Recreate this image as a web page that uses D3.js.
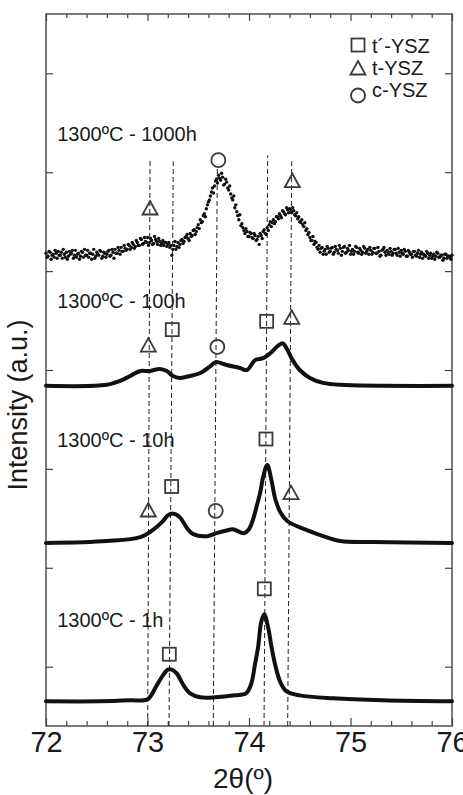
<!DOCTYPE html>
<html>
<head>
<meta charset="utf-8">
<script src="https://cdn.jsdelivr.net/npm/d3@7"></script>
<style>
  body { margin: 0; background: #fff; }
  svg { display: block; }
  text { font-family: "Liberation Sans", Arial, sans-serif; fill: #1a1a1a; }
</style>
</head>
<body>
<svg id="chart" width="463" height="795"></svg>
<script>
// x axis
const xTicks = [72, 73, 74, 75, 76];
const yTicks = [1, 2, 3, 4, 5, 6, 7];

const sampleLabels = ["1300ºC - 1000h", "1300ºC - 100h", "1300ºC - 10h", "1300ºC - 1h"];
const labelY = [6.32, 4.63, 3.22, 1.40];

// 1300C - 1h
const x1h = [72.00, 72.53, 72.83, 73.00, 73.09, 73.15, 73.20, 73.24, 73.29, 73.35, 73.42, 73.52, 73.67, 73.86, 73.97,
             74.02, 74.06, 74.09, 74.12, 74.15, 74.19, 74.22, 74.26, 74.31, 74.37, 74.50, 74.83, 75.32, 76.00];
const y1h = [0.65, 0.65, 0.66, 0.67, 0.81, 0.91, 0.97, 0.97, 0.93, 0.82, 0.73, 0.69, 0.69, 0.71, 0.73,
             0.82, 1.03, 1.20, 1.45, 1.53, 1.39, 1.21, 1.01, 0.84, 0.75, 0.71, 0.68, 0.66, 0.65];

// 1300C - 10h
const x10h = [72.00, 72.60, 72.93, 73.05, 73.15, 73.20, 73.25, 73.32, 73.39, 73.45, 73.59, 73.68, 73.79, 73.84, 73.95,
              74.00, 74.04, 74.08, 74.11, 74.14, 74.18, 74.22, 74.26, 74.31, 74.38, 74.57, 74.73, 74.90, 75.22, 76.00];
const y10h = [2.25, 2.27, 2.31, 2.38, 2.47, 2.53, 2.55, 2.51, 2.40, 2.34, 2.32, 2.35, 2.38, 2.39, 2.35,
              2.39, 2.49, 2.64, 2.76, 2.92, 3.04, 2.89, 2.69, 2.56, 2.47, 2.38, 2.32, 2.27, 2.26, 2.25];

// 1300C - 100h
const x100h = [72.00, 72.60, 72.73, 72.83, 72.93, 73.02, 73.12, 73.19, 73.25, 73.32, 73.42, 73.52, 73.62, 73.67, 73.78,
               73.91, 73.98, 74.06, 74.14, 74.21, 74.28, 74.33, 74.37, 74.43, 74.50, 74.60, 74.73, 74.90, 76.00];
const y100h = [3.84, 3.85, 3.89, 3.94, 3.99, 3.99, 4.01, 3.99, 3.94, 3.92, 3.94, 3.97, 4.04, 4.08, 4.05,
               4.02, 4.00, 4.10, 4.12, 4.17, 4.24, 4.27, 4.22, 4.10, 4.00, 3.92, 3.87, 3.85, 3.84];

// 1300C - 1000h, step scan every 0.01 from 72 to 76
// even steps (72.00, 72.02 ... 76.00)
const y1000hEven = [
  5.18, 5.15, 5.19, 5.16, 5.14, 5.18, 5.20, 5.16, 5.13, 5.17,
  5.19, 5.15, 5.17, 5.21, 5.16, 5.14, 5.18, 5.15, 5.19, 5.22,
  5.16, 5.14, 5.18, 5.17, 5.13, 5.19, 5.16, 5.20, 5.15, 5.18,
  5.17, 5.21, 5.16, 5.19, 5.22, 5.18, 5.21, 5.24, 5.20, 5.23,
  5.22, 5.26, 5.24, 5.27, 5.25, 5.29, 5.26, 5.32, 5.28, 5.30,
  5.34, 5.29, 5.31, 5.28, 5.32, 5.27, 5.30, 5.28, 5.26, 5.29,
  5.27, 5.24, 5.16, 5.26, 5.22, 5.29, 5.27, 5.32, 5.30, 5.35,
  5.33, 5.38, 5.36, 5.42, 5.40, 5.47, 5.52, 5.50, 5.58, 5.63,
  5.70, 5.76, 5.84, 5.86, 5.93, 5.97, 5.92, 5.95, 5.88, 5.90,
  5.82, 5.78, 5.72, 5.64, 5.60, 5.52, 5.46, 5.44, 5.38, 5.40,
  5.35, 5.38, 5.33, 5.36, 5.32, 5.27, 5.36, 5.40, 5.38, 5.44,
  5.47, 5.45, 5.52, 5.50, 5.55, 5.58, 5.54, 5.60, 5.57, 5.62,
  5.63, 5.59, 5.61, 5.56, 5.53, 5.50, 5.52, 5.45, 5.41, 5.37,
  5.34, 5.31, 5.27, 5.29, 5.22, 5.19, 5.24, 5.20, 5.17, 5.23,
  5.20, 5.24, 5.19, 5.22, 5.18, 5.23, 5.20, 5.25, 5.19, 5.21,
  5.17, 5.22, 5.20, 5.24, 5.18, 5.21, 5.19, 5.23, 5.20, 5.17,
  5.21, 5.19, 5.23, 5.18, 5.20, 5.16, 5.22, 5.19, 5.21, 5.17,
  5.20, 5.18, 5.22, 5.16, 5.19, 5.21, 5.17, 5.20, 5.15, 5.19,
  5.17, 5.20, 5.16, 5.18, 5.14, 5.19, 5.17, 5.15, 5.18, 5.16,
  5.13, 5.17, 5.15, 5.18, 5.14, 5.16, 5.13, 5.17, 5.15, 5.14, 5.16
];
// odd steps (72.01, 72.03 ... 75.99)
const y1000hOdd = [
  5.14, 5.20, 5.12, 5.17, 5.21, 5.13, 5.16, 5.19, 5.22, 5.14,
  5.12, 5.20, 5.18, 5.13, 5.21, 5.17, 5.12, 5.20, 5.14, 5.16,
  5.21, 5.18, 5.12, 5.22, 5.15, 5.17, 5.21, 5.13, 5.19, 5.14,
  5.20, 5.15, 5.22, 5.13, 5.18, 5.24, 5.17, 5.20, 5.26, 5.21,
  5.27, 5.22, 5.29, 5.23, 5.31, 5.26, 5.33, 5.27, 5.34, 5.29,
  5.26, 5.33, 5.27, 5.35, 5.30, 5.33, 5.26, 5.31, 5.29, 5.25,
  5.29, 5.26, 5.22, 5.30, 5.25, 5.24, 5.31, 5.28, 5.34, 5.37,
  5.31, 5.35, 5.41, 5.37, 5.44, 5.43, 5.49, 5.56, 5.55, 5.67,
  5.72, 5.80, 5.79, 5.91, 5.89, 5.94, 5.99, 5.87, 5.93, 5.84,
  5.86, 5.74, 5.76, 5.67, 5.56, 5.57, 5.48, 5.41, 5.43, 5.35,
  5.39, 5.34, 5.38, 5.31, 5.35, 5.38, 5.33, 5.42, 5.37, 5.41,
  5.50, 5.49, 5.48, 5.55, 5.53, 5.56, 5.61, 5.58, 5.64, 5.59,
  5.60, 5.64, 5.57, 5.59, 5.55, 5.49, 5.47, 5.49, 5.43, 5.39,
  5.31, 5.35, 5.30, 5.24, 5.26, 5.23, 5.17, 5.22, 5.25, 5.19,
  5.23, 5.17, 5.25, 5.21, 5.26, 5.16, 5.24, 5.18, 5.23, 5.26,
  5.20, 5.17, 5.25, 5.19, 5.23, 5.17, 5.25, 5.18, 5.22, 5.24,
  5.17, 5.23, 5.18, 5.24, 5.15, 5.21, 5.24, 5.16, 5.19, 5.23,
  5.16, 5.22, 5.18, 5.23, 5.15, 5.18, 5.22, 5.15, 5.21, 5.17,
  5.14, 5.20, 5.15, 5.21, 5.17, 5.13, 5.16, 5.20, 5.13, 5.18,
  5.15, 5.12, 5.19, 5.14, 5.16, 5.11, 5.17, 5.13, 5.15, 5.12
];
const scanStart = 72, scanStep = 0.02;

// reflection markers: tp = t'-YSZ, t = t-YSZ, c = c-YSZ
const markerPhase = ["t", "c", "t",
                     "t", "tp", "c", "tp", "t",
                     "t", "tp", "c", "tp", "t",
                     "tp", "tp"];
const markerX = [73.025, 73.698, 74.427,
                 73.008, 73.244, 73.688, 74.174, 74.421,
                 73.008, 73.238, 73.672, 74.167, 74.414,
                 73.215, 74.151];
const markerY = [5.633, 6.122, 5.909,
                 4.246, 4.408, 4.233, 4.492, 4.527,
                 2.579, 2.822, 2.576, 3.302, 2.755,
                 1.126, 1.787];

// dashed reference lines (slightly tilted in the source figure)
const refBottomX = [73.002, 73.212, 73.648, 74.148, 74.381];
const refTopX = [73.025, 73.254, 73.688, 74.184, 74.421];
const refTopY = [6.14, 6.11, 6.05, 6.17, 6.11];

const legendPhase = ["tp", "t", "c"];
const legendText = ["t´-YSZ", "t-YSZ", "c-YSZ"];

const svg = d3.select("#chart");
const pLeft = 46, pRight = 452, pTop = 14, pBottom = 726;

const x = d3.scaleLinear().domain([72, 76]).range([pLeft, pRight]);
const y = d3.scaleLinear().domain([0.4, 7.6]).range([pBottom, pTop]);

// axes, ticks pointing inward
const minor = d3.range(72, 76.001, 0.2).map(v => +v.toFixed(1)).filter(v => !xTicks.includes(v));

svg.append("g").attr("transform", `translate(0,${pBottom})`)
  .call(d3.axisBottom(x).tickValues(xTicks).tickSize(-8).tickPadding(5).tickFormat(d3.format("d")))
  .call(g => g.selectAll("text").style("font-size", "29px").attr("fill", "#1a1a1a"));
svg.append("g").attr("transform", `translate(0,${pBottom})`)
  .call(d3.axisBottom(x).tickValues(minor).tickSize(-5).tickFormat(""));
svg.append("g").attr("transform", `translate(0,${pTop})`)
  .call(d3.axisTop(x).tickValues(xTicks).tickSize(-7).tickFormat(""));
svg.append("g").attr("transform", `translate(0,${pTop})`)
  .call(d3.axisTop(x).tickValues(minor).tickSize(-4).tickFormat(""));
svg.append("g").attr("transform", `translate(${pLeft},0)`)
  .call(d3.axisLeft(y).tickValues(yTicks).tickSize(-7).tickFormat(""));
svg.append("g").attr("transform", `translate(${pRight},0)`)
  .call(d3.axisRight(y).tickValues(yTicks).tickSize(-7).tickFormat(""));

svg.selectAll(".domain").remove();
svg.selectAll(".tick line").attr("stroke", "#444").attr("stroke-width", 1.2);

svg.append("rect")
  .attr("x", pLeft).attr("y", pTop)
  .attr("width", pRight - pLeft).attr("height", pBottom - pTop)
  .attr("fill", "none").attr("stroke", "#444").attr("stroke-width", 1.4);

// axis titles
svg.append("text")
  .attr("x", 243).attr("y", 788)
  .attr("text-anchor", "middle")
  .style("font-size", "28px")
  .text("2θ(º)");

svg.append("text")
  .attr("transform", "translate(27,405) rotate(-90)")
  .attr("text-anchor", "middle")
  .style("font-size", "27px")
  .text("Intensity (a.u.)");

// dashed lines
svg.append("g").selectAll("line")
  .data(refBottomX)
  .join("line")
  .attr("x1", d => x(d)).attr("y1", pBottom)
  .attr("x2", (d, i) => x(refTopX[i])).attr("y2", (d, i) => y(refTopY[i]))
  .attr("stroke", "#222").attr("stroke-width", 1)
  .attr("stroke-dasharray", "5,3");

// continuous patterns
const line = d3.line().curve(d3.curveCatmullRom.alpha(0.5));
[[x1h, y1h], [x10h, y10h], [x100h, y100h]].forEach(s => {
  const pts = s[0].map((v, i) => [x(v), y(s[1][i])]);
  svg.append("path")
    .attr("d", line(pts))
    .attr("fill", "none")
    .attr("stroke", "#111")
    .attr("stroke-width", 4)
    .attr("stroke-linejoin", "round")
    .attr("stroke-linecap", "round");
});

// 1000h as scattered points
const pts1000 = y1000hEven.map((v, i) => [scanStart + i * scanStep, v])
  .concat(y1000hOdd.map((v, i) => [scanStart + 0.01 + i * scanStep, v]));
svg.append("g").selectAll("circle")
  .data(pts1000)
  .join("circle")
  .attr("cx", d => x(d[0]))
  .attr("cy", d => y(d[1]))
  .attr("r", 1.7)
  .attr("fill", "#111");

// sample labels
svg.append("g").selectAll("text")
  .data(sampleLabels)
  .join("text")
  .attr("x", x(72.11))
  .attr("y", (d, i) => y(labelY[i]))
  .style("font-size", "20px")
  .text(d => d);

function drawMarker(g, phase, cx, cy) {
  const st = { fill: "none", stroke: "#3a3a3a", "stroke-width": 1.8 };
  let m;
  if (phase === "tp") {
    m = g.append("rect").attr("x", cx - 6.5).attr("y", cy - 6.5).attr("width", 13).attr("height", 13);
  } else if (phase === "t") {
    m = g.append("path").attr("d", `M${cx},${cy - 7.5}L${cx + 7.5},${cy + 6}L${cx - 7.5},${cy + 6}Z`);
  } else {
    m = g.append("circle").attr("cx", cx).attr("cy", cy).attr("r", 7);
  }
  Object.entries(st).forEach(([k, v]) => m.attr(k, v));
}

const mk = svg.append("g");
markerPhase.forEach((p, i) => drawMarker(mk, p, x(markerX[i]), y(markerY[i])));

// legend
const lg = svg.append("g");
const legendSymY = [45, 68.5, 95.5];
const legendTextY = [53.3, 75, 96.5];
legendPhase.forEach((p, i) => {
  drawMarker(lg, p, 358, legendSymY[i]);
  lg.append("text")
    .attr("x", 372).attr("y", legendTextY[i])
    .style("font-size", "20px")
    .text(legendText[i]);
});
</script>
</body>
</html>
